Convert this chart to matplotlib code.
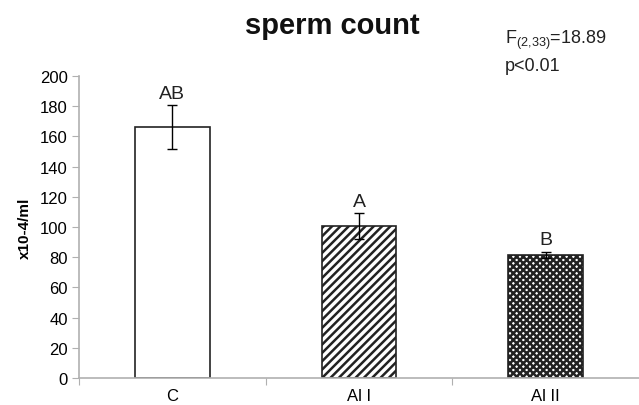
import matplotlib
matplotlib.use("Agg")
import matplotlib.pyplot as plt
import numpy as np

# datos
grupos = ["C", "Al I", "Al II"]
medias = [166, 100.5, 81.5]
errores = [14.5, 8.5, 2.2]
letras = ["AB", "A", "B"]
tramas = ["", "////", "xxxxx"]

plt.rcParams["font.family"] = ["Liberation Sans", "DejaVu Sans"]
plt.rcParams["hatch.linewidth"] = 1.8
plt.rcParams["mathtext.fontset"] = "custom"
plt.rcParams["mathtext.rm"] = "Liberation Sans"

fig = plt.figure(figsize=(6.39, 4.06), dpi=100)
ax = fig.add_axes([0.1236, 0.0665, 0.8764, 0.7438])

x = np.arange(len(grupos))
for i in range(len(grupos)):
    ax.bar(x[i], medias[i], width=0.4, color="white", edgecolor="#222222",
           linewidth=1.2, hatch=tramas[i], zorder=2)
    ax.errorbar(x[i], medias[i], yerr=errores[i], color="black", lw=1,
                capsize=3.5, capthick=1, zorder=3)
    ax.text(x[i], medias[i] + errores[i] + 2.5, letras[i], ha="center",
            va="bottom", fontsize=14, color="#222222")

ax.set_xlim(-0.5, 2.5)
ax.set_ylim(0, 200)
ax.set_yticks(np.arange(0, 201, 20))
ax.set_xticks([-0.5, 0.5, 1.5])
ax.set_xticklabels([])
ax.set_xticks(x, minor=True)
ax.set_xticklabels(grupos, minor=True)
ax.tick_params(axis="x", which="minor", length=0, pad=7, labelsize=12)
ax.tick_params(axis="x", which="major", length=5, color="#b0b0b0")
ax.tick_params(axis="y", length=5, color="#b0b0b0", labelsize=12, pad=3)

for s in ["top", "right"]:
    ax.spines[s].set_visible(False)
for s in ["left", "bottom"]:
    ax.spines[s].set_color("#b0b0b0")
    ax.spines[s].set_linewidth(1.2)

ax.set_ylabel("x10-4/ml", fontsize=11, fontweight="bold", labelpad=6)

fig.text(0.52, 0.935, "sperm count", ha="center", va="center",
         fontsize=21, fontweight="bold", color="#111111")
fig.text(0.79, 0.9, r"F$_{(2,\!33)}$=18.89", ha="left", va="center",
         fontsize=13, color="#222222")
fig.text(0.79, 0.835, "p<0.01", ha="left", va="center",
         fontsize=13, color="#222222")

fig.savefig("out.png", dpi=100)
